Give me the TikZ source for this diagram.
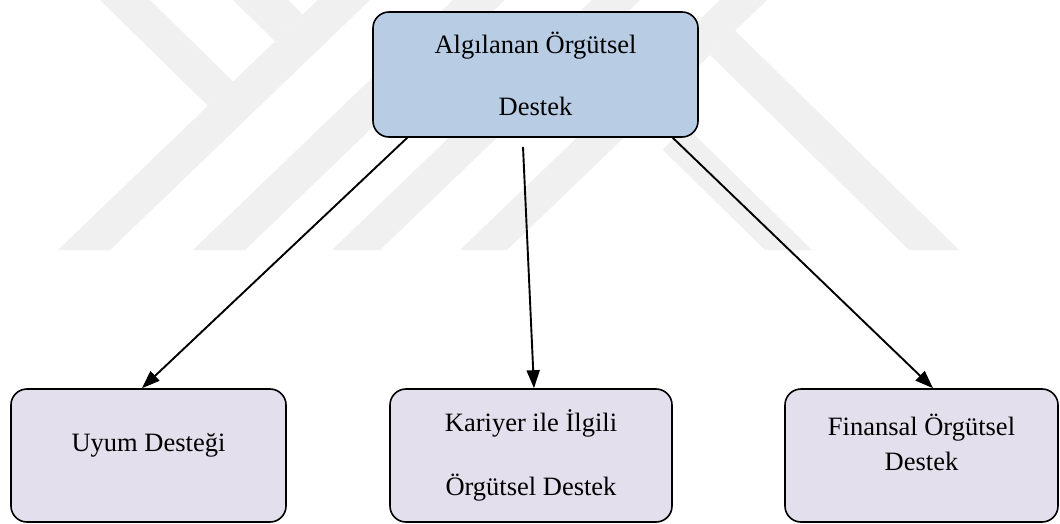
\documentclass[tikz,border=0pt]{standalone}
\usepackage{fontspec}
\setmainfont{Liberation Serif}
\usetikzlibrary{arrows.meta}
\definecolor{wm}{RGB}{240,240,240}
\definecolor{topfill}{RGB}{184,204,228}
\definecolor{subfill}{RGB}{228,223,236}
\tikzset{
  wmark/.style={fill=wm, draw=none},
  topbox/.style={draw=black, line width=1.6pt, rounded corners=16pt, fill=topfill,
    minimum width=325pt, minimum height=125pt, inner sep=0pt},
  subbox/.style={draw=black, line width=1.6pt, rounded corners=16pt, fill=subfill,
    minimum height=133pt, inner sep=0pt},
  arrowline/.style={line width=1.9pt, -{Triangle[length=18pt,width=13pt]}}
}
\begin{document}
\begin{tikzpicture}[x=1pt,y=-1pt]
\useasboundingbox (0,0) rectangle (1060,524);
\fill[white] (0,0) rectangle (1060,524);
% watermark
\fill[wmark] (58,250) -- (110,250) -- (370,0) -- (318,0) -- cycle;
\fill[wmark] (100,0) -- (150,0) -- (233.2,81.6) -- (208,105.8) -- cycle;
\fill[wmark] (233,0) -- (288,0) -- (302.8,14.6) -- (275,41.3) -- cycle;
\fill[wmark] (193,250) -- (245,250) -- (505,0) -- (453,0) -- cycle;
\fill[wmark] (332,250) -- (380,250) -- (640,0) -- (592,0) -- cycle;
\fill[wmark] (460,250) -- (507,250) -- (767,0) -- (720,0) -- cycle;
\fill[wmark] (735,30.6) -- (959,250) -- (909,250) -- (710,54.9) -- cycle;
\fill[wmark] (686.2,126.7) -- (812,250) -- (765,250) -- (662.5,149.5) -- cycle;
% nodes
\node[topbox, font=\fontsize{26.5}{62}\selectfont, text height=20pt, text depth=62.4pt]
  (top) at (535.5,74.5) {\begin{tabular}[t]{@{}c@{}}Algılanan Örgütsel\\Destek\end{tabular}};
\node[subbox, minimum width=275pt, font=\fontsize{26.5}{32}\selectfont, text height=20pt, text depth=27.6pt]
  (b1) at (148.5,455.5) {Uyum Desteği};
\node[subbox, minimum width=282pt, font=\fontsize{26.5}{63.3}\selectfont, text height=20pt, text depth=67.6pt]
  (b2) at (531,455.5) {\begin{tabular}[t]{@{}c@{}}Kariyer ile İlgili\\Örgütsel Destek\end{tabular}};
\node[subbox, minimum width=273pt, font=\fontsize{26.5}{35}\selectfont, text height=20pt, text depth=61pt]
  (b3) at (921.5,455.5) {\begin{tabular}[t]{@{}c@{}}Finansal Örgütsel\\Destek\end{tabular}};
% connectors
\coordinate (s1) at ([xshift=35pt]top.south west);
\coordinate (s2) at ([xshift=-12.5pt,yshift=-9pt]top.south);
\coordinate (s3) at ([xshift=-26pt]top.south east);
\draw[arrowline] (s1) -- ([xshift=-6.5pt]b1.north);
\draw[arrowline] (s2) -- ([xshift=3pt]b2.north);
\draw[arrowline] (s3) -- ([xshift=11.5pt]b3.north);
\end{tikzpicture}
\end{document}
